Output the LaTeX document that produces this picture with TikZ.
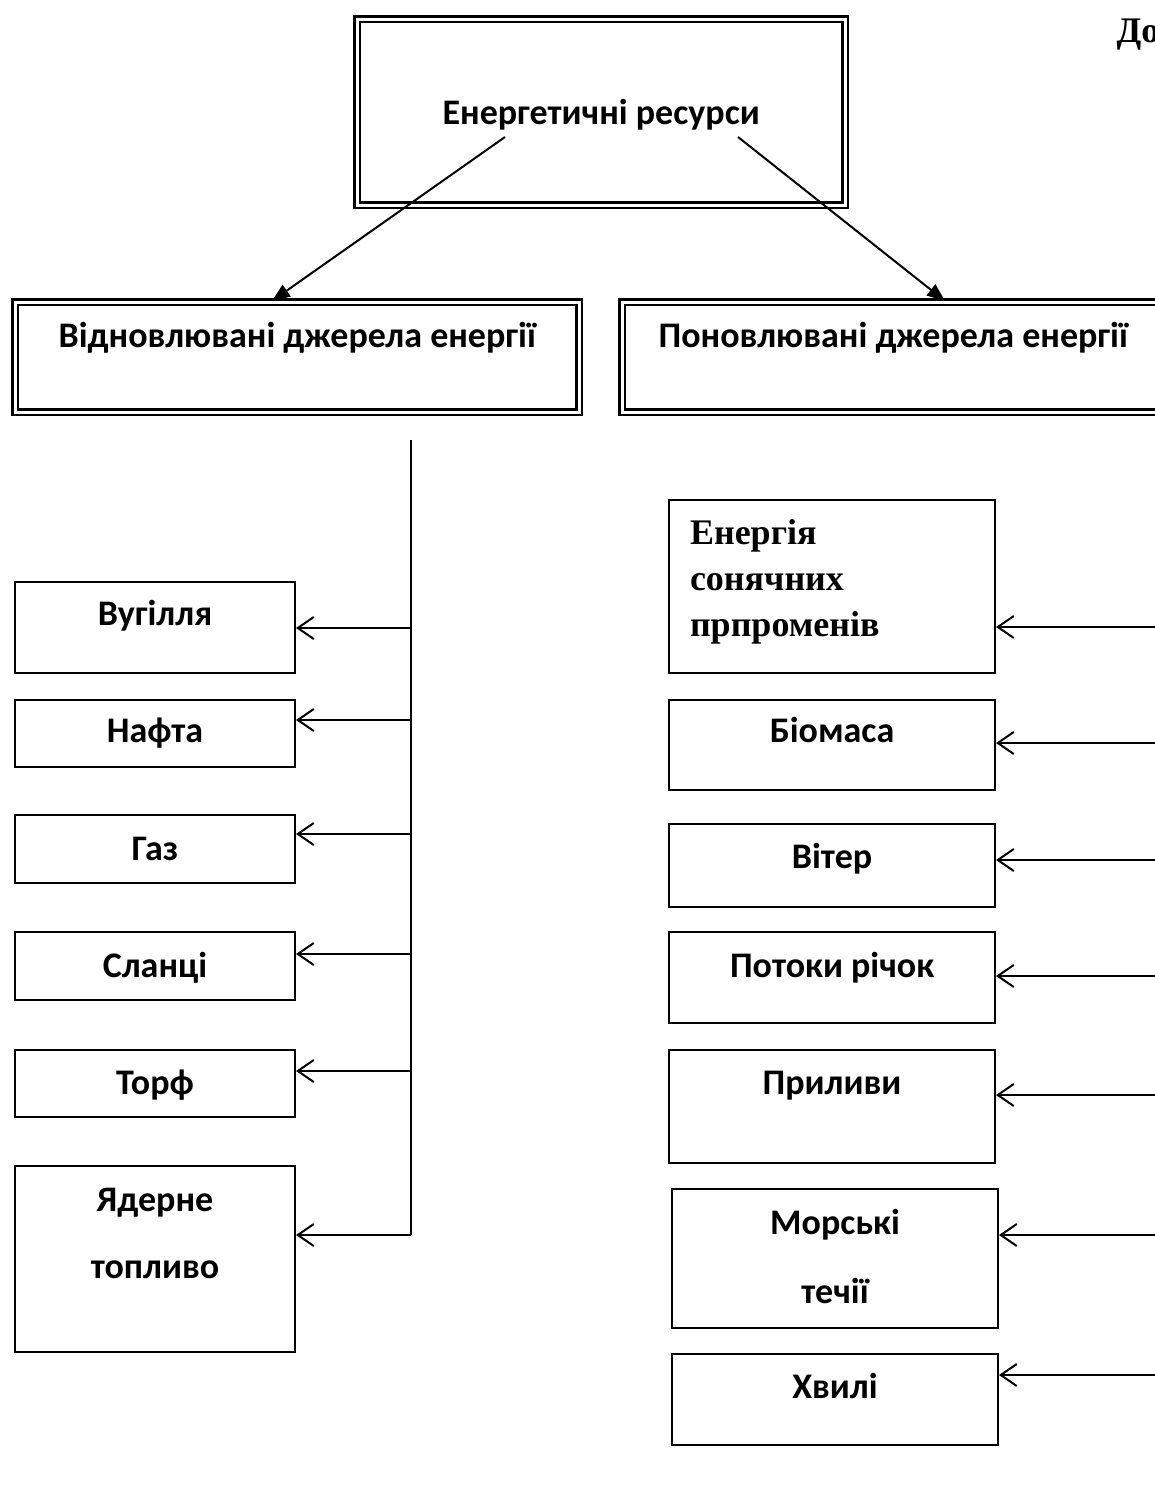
\documentclass[tikz,border=0pt]{standalone}
\usepackage{fontspec}
\setmainfont{Carlito}
\newfontfamily\timesbf{Liberation Serif}
\usetikzlibrary{arrows.meta}

\begin{document}
\begin{tikzpicture}[x=1pt,y=-1pt]
        \tikzset{dbox/.style={draw, double, line width=2.5pt, double distance=3pt, anchor=north west,
                inner sep=0pt, align=center, font=\fontsize{36}{42}\selectfont\bfseries}}
        \tikzset{sbox/.style={draw, line width=2pt, anchor=north west, inner sep=0pt, align=center,
                font=\fontsize{36}{42}\selectfont\bfseries}}
        \tikzset{tip/.style={line width=2pt, -{Triangle[length=18pt,width=14pt]}}}
        \tikzset{feed/.style={line width=2pt, -{Straight Barb[length=16pt,width=22pt]}}}
        \clip (0,0) rectangle (1155,1509);
        \node[anchor=base west, font=\fontsize{36}{40}\selectfont\timesbf\bfseries] (dod) at (1113,43) {До};
        \node[dbox, minimum width=488pt, text height=105pt, text depth=81pt] (res) at (356,18) {Енергетичні ресурси};
        \node[dbox, minimum width=564pt, text height=45pt, text depth=65pt] (vid) at (14,301) {Відновлювані джерела енергії};
        \node[dbox, minimum width=542pt, text height=45pt, text depth=65pt] (pon) at (621,301) {Поновлювані джерела енергії};
        \coordinate (s1) at (505,137);
        \coordinate (s2) at (738,137);
        \coordinate (e1) at (272,0);
        \coordinate (e2) at (945,0);
        \draw[tip] (s1) -- (e1 |- vid.north);
        \draw[tip] (s2) -- (e2 |- pon.north);
        % ліва гілка
        \node[sbox, minimum width=280pt, text height=43pt, text depth=48pt] (vug) at (14,581) {Вугілля};
        \node[sbox, minimum width=280pt, text height=42pt, text depth=25pt] (naf) at (14,699) {Нафта};
        \node[sbox, minimum width=280pt, text height=45pt, text depth=23pt] (gaz) at (14,814) {Газ};
        \node[sbox, minimum width=280pt, text height=45pt, text depth=23pt] (slan) at (14,931) {Сланці};
        \node[sbox, minimum width=280pt, text height=44pt, text depth=23pt] (torf) at (14,1049) {Торф};
        \node[sbox, text width=280pt, text height=45pt, text depth=141pt, font=\fontsize{36}{67}\selectfont\bfseries] (yad) at (14,1165) {Ядерне\\топливо};
        \coordinate (ltop) at (411,440);
        \coordinate (l1) at (411,628);
        \coordinate (l2) at (411,720);
        \coordinate (l3) at (411,834);
        \coordinate (l4) at (411,954);
        \coordinate (l5) at (411,1071);
        \coordinate (l6) at (411,1235);
        \draw[line width=2pt] (ltop) -- (l6);
        \draw[feed] (l1) -- (l1 -| vug.east);
        \draw[feed] (l2) -- (l2 -| naf.east);
        \draw[feed] (l3) -- (l3 -| gaz.east);
        \draw[feed] (l4) -- (l4 -| slan.east);
        \draw[feed] (l5) -- (l5 -| torf.east);
        \draw[feed] (l6) -- (l6 -| yad.east);
        % права гілка
        \node[sbox, text height=44pt, text depth=129pt, inner xsep=21pt, text width=284pt, align=left,
              font=\fontsize{36}{46}\selectfont\timesbf\bfseries] (sun) at (668,499) {Енергія\\сонячних\\прпроменів};
        \node[sbox, minimum width=326pt, text height=42pt, text depth=48pt] (bio) at (668,699) {Біомаса};
        \node[sbox, minimum width=326pt, text height=44pt, text depth=39pt] (vit) at (668,823) {Вітер};
        \node[sbox, minimum width=326pt, text height=45pt, text depth=46pt] (pot) at (668,931) {Потоки річок};
        \node[sbox, minimum width=326pt, text height=44pt, text depth=69pt] (pryl) at (668,1049) {Приливи};
        \node[sbox, text width=326pt, text height=45pt, text depth=94pt, font=\fontsize{36}{69}\selectfont\bfseries] (mor) at (671,1188) {Морські\\течії};
        \node[sbox, minimum width=326pt, text height=44pt, text depth=47pt] (hvy) at (671,1353) {Хвилі};
        \coordinate (r1) at (1160,627);
        \coordinate (r2) at (1160,743);
        \coordinate (r3) at (1160,860);
        \coordinate (r4) at (1160,976);
        \coordinate (r5) at (1160,1095);
        \coordinate (r6) at (1160,1235);
        \coordinate (r7) at (1160,1375);
        \draw[feed] (r1) -- (r1 -| sun.east);
        \draw[feed] (r2) -- (r2 -| bio.east);
        \draw[feed] (r3) -- (r3 -| vit.east);
        \draw[feed] (r4) -- (r4 -| pot.east);
        \draw[feed] (r5) -- (r5 -| pryl.east);
        \draw[feed] (r6) -- (r6 -| mor.east);
        \draw[feed] (r7) -- (r7 -| hvy.east);
\end{tikzpicture}
\end{document}
